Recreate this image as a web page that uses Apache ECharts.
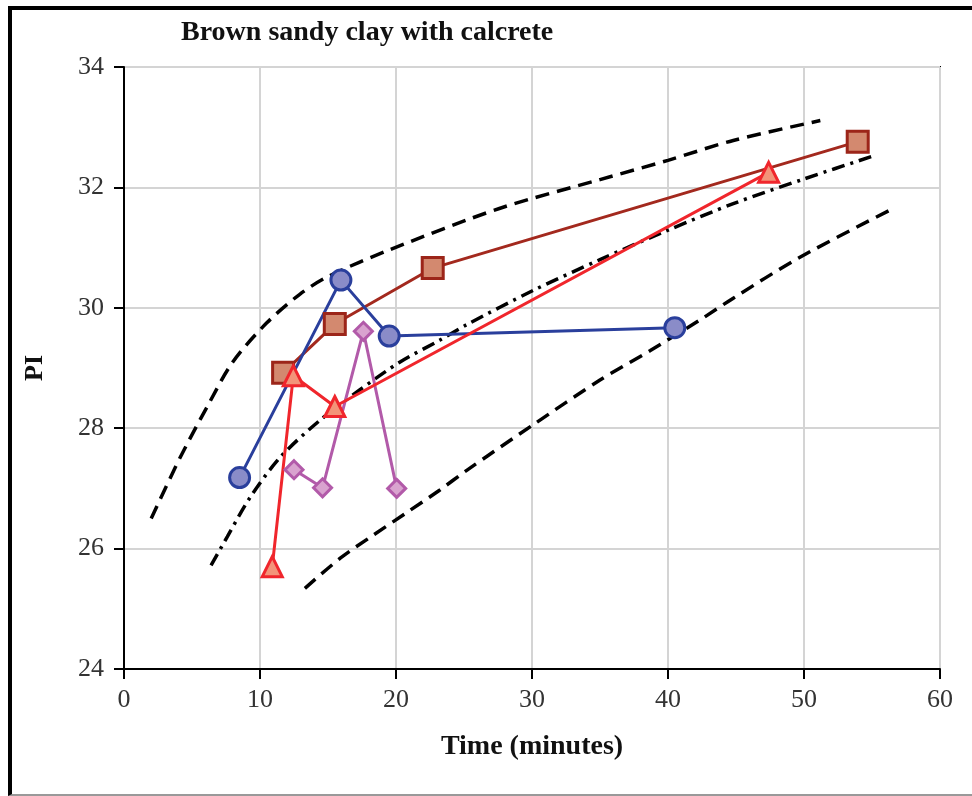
<!DOCTYPE html>
<html>
<head>
<meta charset="utf-8">
<script src="https://cdn.jsdelivr.net/npm/echarts@6/dist/echarts.min.js"></script>
<style>
  html, body { margin: 0; padding: 0; background: #fff; }
  #chart { width: 972px; height: 796px; }
  #frame {
    position: absolute; left: 8px; top: 6px; right: 0; bottom: 0;
    border-top: 4px solid #000; border-left: 4px solid #000;
    border-bottom: 2px solid #999; pointer-events: none;
  }
</style>
</head>
<body>
<div id="chart"></div>
<div id="frame"></div>
<script>
// measured points [time, PI]
var squares = [[11.7, 28.92], [15.5, 29.73], [22.7, 30.66], [53.95, 32.76]];
var circles = [[8.5, 27.18], [15.95, 30.46], [19.5, 29.53], [40.5, 29.67]];
var triangles = [[10.9, 25.7], [12.45, 28.87], [15.5, 28.36], [47.4, 32.25]];
var diamonds = [[12.5, 27.31], [14.6, 27.01], [17.6, 29.61], [20.05, 27.0]];

// envelope curves
var upperCurve = [[2.0, 26.5], [4.1, 27.5], [6.1, 28.35], [8.0, 29.1], [10.5, 29.75], [12.9, 30.22],
  [15.0, 30.52], [19.6, 30.97], [27.6, 31.65], [35.0, 32.13], [40.0, 32.45], [44.8, 32.78], [51.2, 33.11]];
var middleCurve = [[6.4, 25.72], [7.6, 26.2], [9.3, 26.86], [11.5, 27.52], [14.4, 28.13], [17.3, 28.63],
  [20.3, 29.1], [23.2, 29.46], [25.2, 29.72], [30.1, 30.29], [35.0, 30.8], [40.0, 31.29], [44.8, 31.73],
  [50.0, 32.14], [55.2, 32.53]];
var lowerCurve = [[13.3, 25.34], [15.9, 25.84], [18.3, 26.22], [20.8, 26.6], [23.2, 26.97], [25.2, 27.3],
  [30.1, 28.06], [35.0, 28.8], [38.7, 29.29], [42.3, 29.79], [44.8, 30.16], [49.7, 30.84], [56.3, 31.62]];

var xTicks = [0, 10, 20, 30, 40, 50, 60];
var yTicks = [24, 26, 28, 30, 32, 34];

var serif = '"Liberation Serif", "DejaVu Serif", serif';

function curve(data, type) {
  return {
    type: 'line', data: data, smooth: 0.3, symbol: 'none', silent: true, z: 1,
    lineStyle: { color: '#000', width: 3.5, type: type }
  };
}

function dataSeries(data, symbol, size, line, fill, border) {
  return {
    type: 'line', data: data, symbol: symbol, symbolSize: size, z: 3,
    lineStyle: { color: line, width: 3 },
    itemStyle: { color: fill, borderColor: border, borderWidth: 3 }
  };
}

var chart = echarts.init(document.getElementById('chart'));
chart.setOption({
  animation: false,
  title: {
    text: 'Brown sandy clay with calcrete',
    left: 176, top: 14,
    textStyle: { fontFamily: serif, fontSize: 28, fontWeight: 'bold', color: '#111' }
  },
  grid: {
    left: 124, top: 67, right: 32, bottom: 127,
    show: true, borderColor: '#000', borderWidth: 2
  },
  xAxis: {
    type: 'value', min: xTicks[0], max: xTicks[xTicks.length - 1], interval: 10,
    name: 'Time (minutes)', nameLocation: 'middle', nameGap: 64,
    nameTextStyle: { fontFamily: serif, fontSize: 28, fontWeight: 'bold', color: '#111' },
    axisLine: { lineStyle: { color: '#000', width: 2 } },
    axisTick: { inside: false, length: 10, lineStyle: { color: '#000', width: 2 } },
    axisLabel: { margin: 18, fontFamily: serif, fontSize: 26, color: '#333' },
    splitLine: { lineStyle: { color: '#d4d4d4', width: 2 } }
  },
  yAxis: {
    type: 'value', min: yTicks[0], max: yTicks[yTicks.length - 1], interval: 2,
    name: 'PI', nameLocation: 'middle', nameGap: 76,
    nameTextStyle: { fontFamily: serif, fontSize: 26, fontWeight: 'bold', color: '#111' },
    axisLine: { show: true, lineStyle: { color: '#000', width: 2 } },
    axisTick: { show: true, inside: false, length: 10, lineStyle: { color: '#000', width: 2 } },
    axisLabel: { margin: 20, fontFamily: serif, fontSize: 26, color: '#333' },
    splitLine: { lineStyle: { color: '#d4d4d4', width: 2 } }
  },
  series: [
    curve(upperCurve, [14, 8]),
    curve(middleCurve, [13, 6, 3, 6]),
    curve(lowerCurve, [14, 8]),
    dataSeries(squares, 'rect', 21, '#a3291e', '#d3896f', '#9c2519'),
    dataSeries(circles, 'circle', 20, '#2a3f9c', '#8a8cc8', '#2a3f9c'),
    dataSeries(diamonds, 'diamond', 18, '#b25aa9', '#d9a3cf', '#b25aa9'),
    dataSeries(triangles, 'triangle', 20, '#f0262c', '#f39479', '#f0262c')
  ]
});
</script>
</body>
</html>
